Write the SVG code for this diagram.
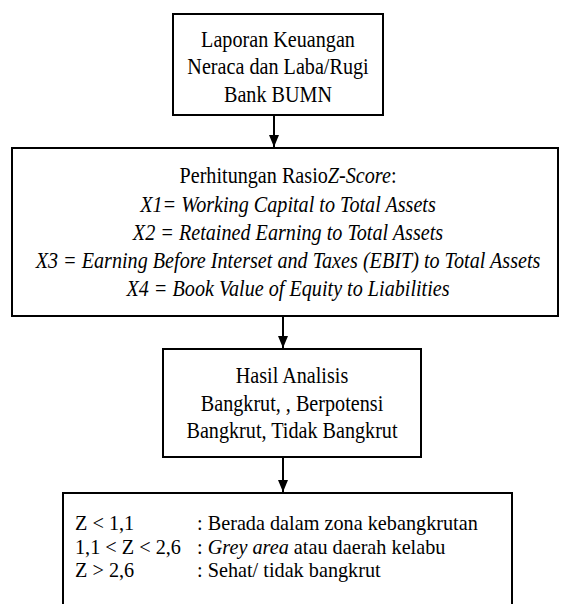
<svg xmlns="http://www.w3.org/2000/svg" width="563" height="604" viewBox="0 0 563 604">
<style>
.box{fill:#fff;stroke:#000;stroke-width:2}
.t{font-family:'Liberation Serif','Times New Roman','DejaVu Serif',serif;font-size:24px;fill:#000}
.s{font-size:22px}
.c{text-anchor:middle}
.i{font-style:italic}
.conn{stroke:#000;stroke-width:2;fill:none}
</style>
<defs>
<marker id="ah" markerUnits="userSpaceOnUse" markerWidth="12" markerHeight="14" viewBox="0 0 12 14" refX="12" refY="6" orient="auto">
<path d="M0,1 L12,6 L0,11 Z" fill="#000"/>
</marker>
</defs>
<rect width="563" height="604" fill="#fff"/>
<g id="connectors">
<line class="conn" x1="274" y1="115" x2="274" y2="147" marker-end="url(#ah)"/>
<line class="conn" x1="283" y1="317" x2="283" y2="348" marker-end="url(#ah)"/>
<line class="conn" x1="283" y1="457" x2="283" y2="492" marker-end="url(#ah)"/>
</g>
<g id="node1">
<rect class="box" x="173" y="14" width="210" height="101"/>
<text class="t c" transform="translate(278,46.7) scale(0.84,1)">Laporan Keuangan</text>
<text class="t c" transform="translate(278,74) scale(0.84,1)">Neraca dan Laba/Rugi</text>
<text class="t c" transform="translate(278,101.5) scale(0.84,1)">Bank BUMN</text>
</g>
<g id="node2">
<rect class="box" x="12" y="148" width="546" height="168"/>
<text class="t c" transform="translate(288,183) scale(0.84,1)">Perhitungan Rasio<tspan class="i">Z-Score</tspan>:</text>
<text class="t c i" transform="translate(288,211.7) scale(0.84,1)">X1= Working Capital to Total Assets</text>
<text class="t c i" transform="translate(288,240) scale(0.84,1)">X2 = Retained Earning to Total Assets</text>
<text class="t c i" transform="translate(288,268.3) scale(0.84,1)">X3 = Earning Before Interset and Taxes (EBIT) to Total Assets</text>
<text class="t c i" transform="translate(288,296) scale(0.84,1)">X4 = Book Value of Equity to Liabilities</text>
</g>
<g id="node3">
<rect class="box" x="163" y="349" width="258" height="108"/>
<text class="t c" transform="translate(292,383.3) scale(0.84,1)">Hasil Analisis</text>
<text class="t c" transform="translate(292,411) scale(0.84,1)">Bangkrut, , Berpotensi</text>
<text class="t c" transform="translate(292,438.3) scale(0.84,1)">Bangkrut, Tidak Bangkrut</text>
</g>
<g id="node4">
<rect class="box" x="63" y="493" width="449" height="130"/>
<text class="t s" transform="translate(75,530) scale(0.92,1)">Z &lt; 1,1</text>
<text class="t s" transform="translate(197,530) scale(0.92,1)">: Berada dalam zona kebangkrutan</text>
<text class="t s" transform="translate(75,554) scale(0.92,1)">1,1 &lt; Z &lt; 2,6</text>
<text class="t s" transform="translate(197,554) scale(0.92,1)">: <tspan class="i">Grey area</tspan> atau daerah kelabu</text>
<text class="t s" transform="translate(75,577) scale(0.92,1)">Z &gt; 2,6</text>
<text class="t s" transform="translate(197,577) scale(0.92,1)">: Sehat/ tidak bangkrut</text>
</g>
</svg>
